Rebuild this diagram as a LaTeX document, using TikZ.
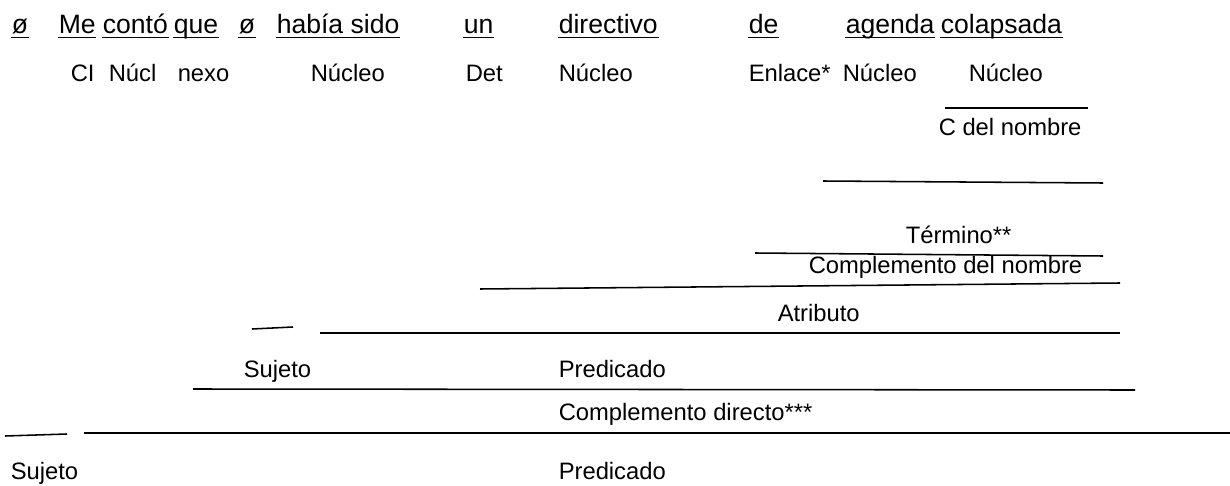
\documentclass[tikz,border=0pt]{standalone}
\usepackage{fontspec}
\setmainfont{Liberation Sans}

\begin{document}
\begin{tikzpicture}[x=0.025cm, y=-0.025cm, line width=1.1pt,
    palabra/.style={anchor=base west, inner sep=0pt, font=\fontsize{18.9}{22}\selectfont},
    funcion/.style={anchor=base west, inner sep=0pt, font=\fontsize{16.9}{20}\selectfont}]
	\useasboundingbox (0,0) rectangle (1230,486);
	% sentence, every word underlined
	\foreach \n/\x/\t in {o1/11/ø, me/58/Me, conto/102/contó, que/173/que, o2/238/ø,
	                     sido/276/había sido, un/463/un, directivo/558/directivo,
	                     de/748/de, agenda/845/agenda, colapsada/940/colapsada}
		\node[palabra] (\n) at (\x,34) {\t};
	\foreach \n in {o1, me, conto, que, o2, sido, un, directivo, de, agenda, colapsada}
		\draw[line width=0.9pt] ([yshift=-2.6pt]\n.base west) -- ([yshift=-2.6pt]\n.base east);
	
	% word functions
	\foreach \n/\x/\t in {ci/70/CI, nucl/108/Núcl, nexo/177/nexo, nucA/310/Núcleo,
	                     det/465/Det, nucB/558/Núcleo, enlace/748/Enlace*,
	                     nucC/842/Núcleo, nucD/968/Núcleo}
		\node[funcion] (\n) at (\x,82) {\t};
	
	% phrase lines
	\draw (945,108) -- (1088,108);
	\node[funcion] (cdn) at (938,135) {C del nombre};
	
	\draw (823,181) -- (1103,183);
	\node[funcion] (termino) at (905,243) {Término**};
	\draw (755,253) -- (1103,256);
	\node[funcion] (cn) at (808,273) {Complemento del nombre};
	\draw (480,289) -- (1120,283);
	
	\node[funcion] (atributo) at (777,321) {Atributo};
	\draw (252,329) -- (293,327);
	\draw (320,333) -- (1120,333);
	
	\node[funcion] (sujetoB) at (243,377) {Sujeto};
	\node[funcion] (predB) at (558,377) {Predicado};
	\draw (193,389) -- (1135,390);
	
	\node[funcion] (cd) at (558,420) {Complemento directo***};
	\draw (5,436) -- (67,434);
	\draw (84,433) -- (1230,433);
	
	\node[funcion] (sujetoA) at (10,479) {Sujeto};
	\node[funcion] (predA) at (558,479) {Predicado};
\end{tikzpicture}
\end{document}
